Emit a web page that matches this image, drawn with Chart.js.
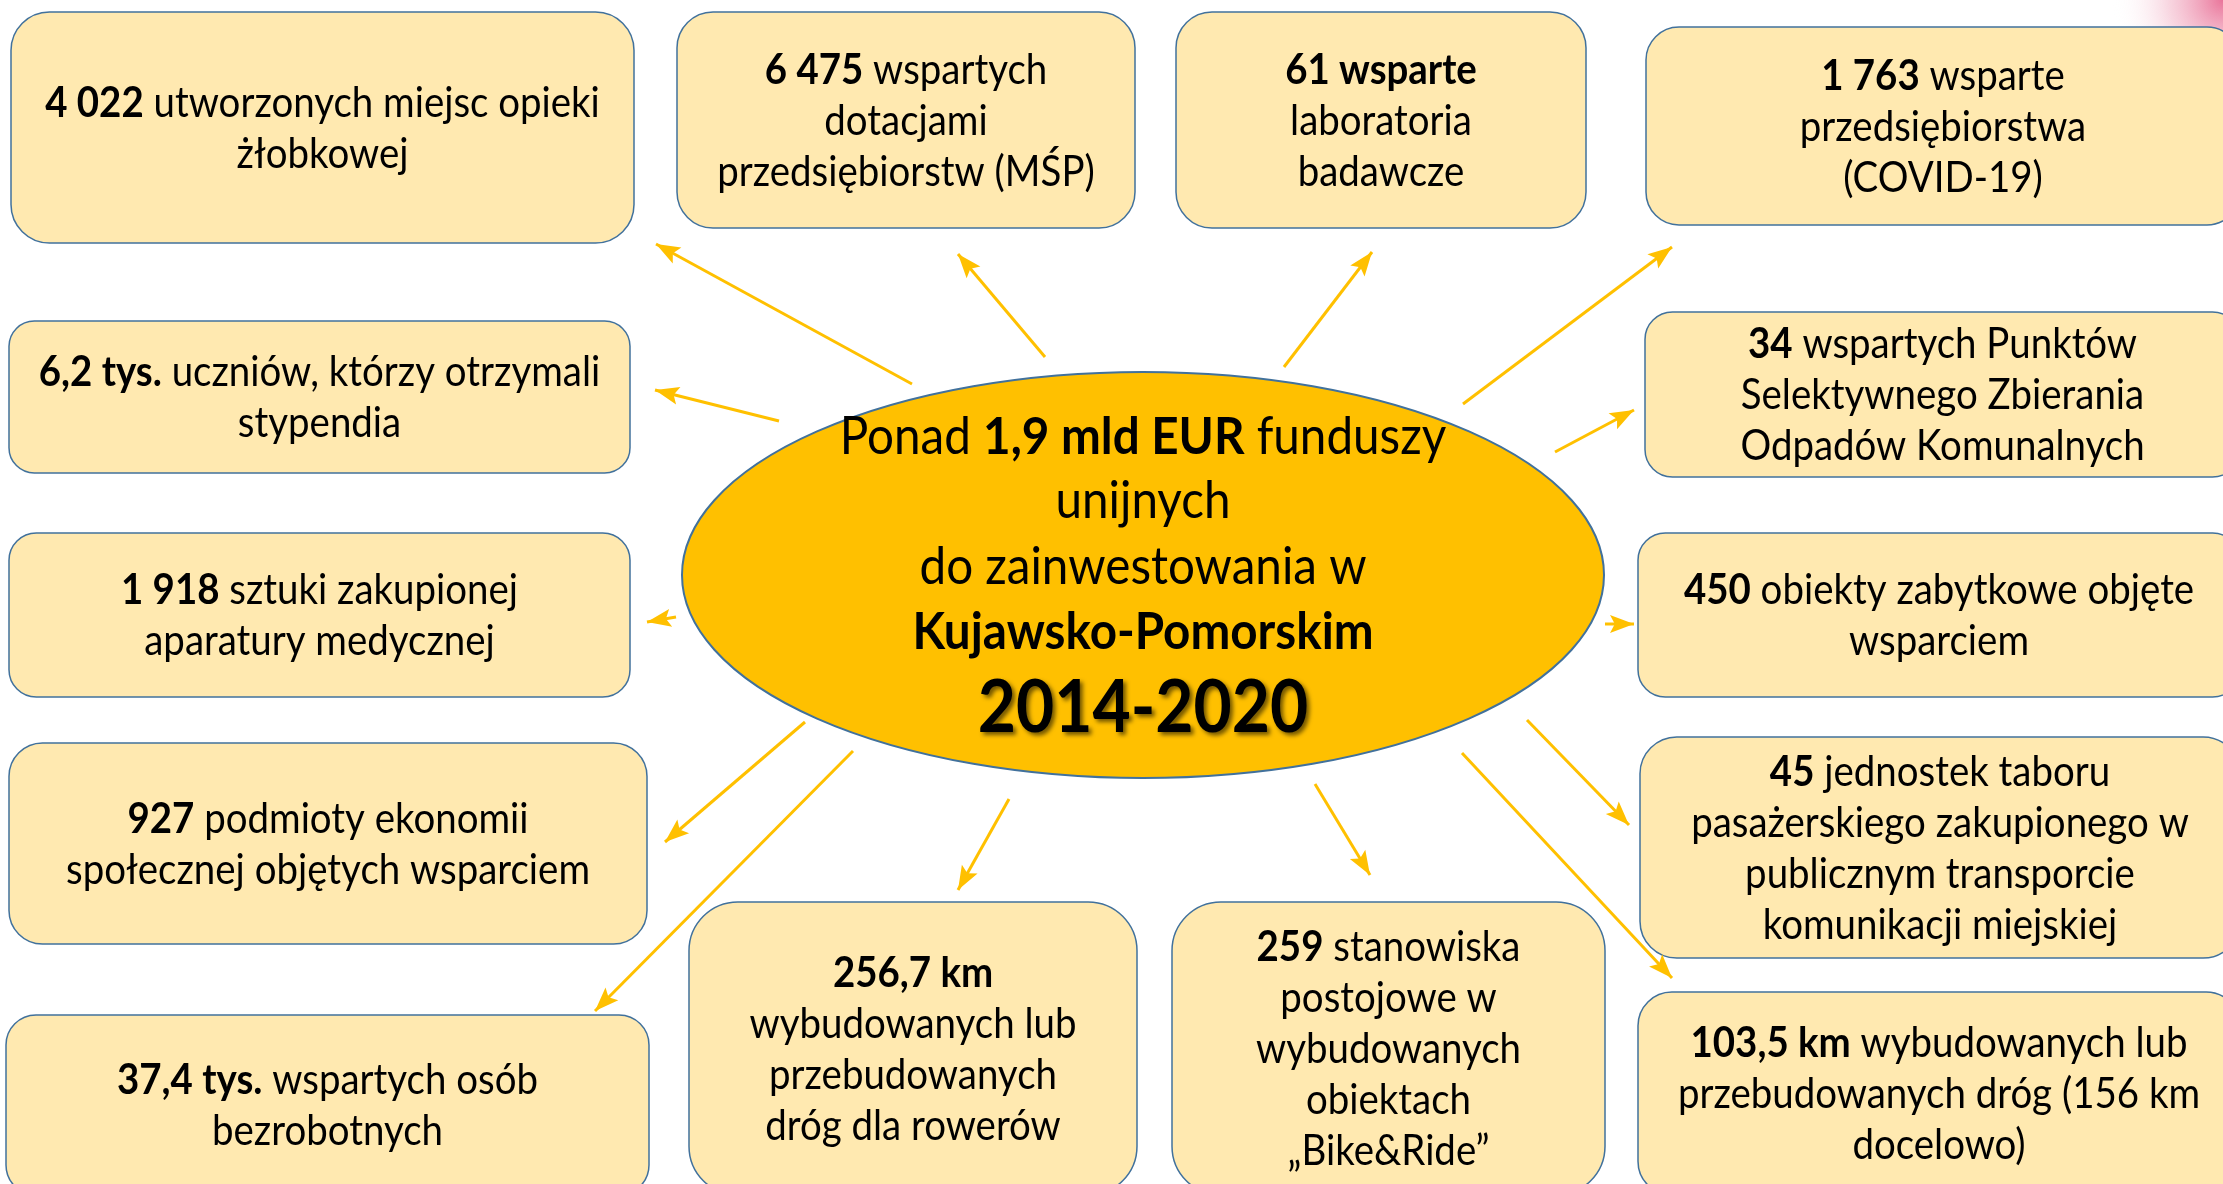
<!DOCTYPE html>
<html lang="pl">
<head>
<meta charset="utf-8">
<title>Fundusze unijne Kujawsko-Pomorskie 2014-2020</title>
<script src="https://cdn.jsdelivr.net/npm/chart.js@4.4.1/dist/chart.umd.min.js"></script>
<style>
  html, body { margin: 0; padding: 0; background: #ffffff; overflow: hidden; }
  canvas { display: block; }
</style>
</head>
<body>
<canvas id="diagram" width="2223" height="1184"></canvas>
<script>
// Wartości (pogrubione) i opisy w ramkach
const values = ['4 022', '6 475', '61 wsparte', '1 763', '6,2 tys.', '34', '1 918',
    '450', '927', '45', '37,4 tys.', '256,7 km', '259', '103,5 km'];
const descriptions = [
    [' utworzonych miejsc opieki', 'żłobkowej'],
    [' wspartych', 'dotacjami', 'przedsiębiorstw (MŚP)'],
    ['', 'laboratoria', 'badawcze'],
    [' wsparte', 'przedsiębiorstwa', '(COVID-19)'],
    [' uczniów, którzy otrzymali', 'stypendia'],
    [' wspartych Punktów', 'Selektywnego Zbierania', 'Odpadów Komunalnych'],
    [' sztuki zakupionej', 'aparatury medycznej'],
    [' obiekty zabytkowe objęte', 'wsparciem'],
    [' podmioty ekonomii', 'społecznej objętych wsparciem'],
    [' jednostek taboru', 'pasażerskiego zakupionego w', 'publicznym transporcie', 'komunikacji miejskiej'],
    [' wspartych osób', 'bezrobotnych'],
    ['', 'wybudowanych lub', 'przebudowanych', 'dróg dla rowerów'],
    [' stanowiska', 'postojowe w', 'wybudowanych', 'obiektach', '„Bike&Ride”'],
    [' wybudowanych lub', 'przebudowanych dróg (156 km', 'docelowo)']
];

// Tekst w elipsie
const totalPrefix = 'Ponad ';
const totalAmount = '1,9 mld EUR';
const totalSuffix = ' funduszy';
const centerLines = ['unijnych', 'do zainwestowania w'];
const regionName = 'Kujawsko-Pomorskim';
const periodLabel = '2014-2020';

// Układ (jednostki osi: piksele obrazu wzorcowego)
const boxRects = [
    [11, 12, 634, 243], [677, 12, 1135, 228], [1176, 12, 1586, 228], [1646, 27, 2240, 225],
    [9, 321, 630, 473], [1645, 312, 2240, 477], [9, 533, 630, 697], [1638, 533, 2240, 697],
    [9, 743, 647, 944], [1640, 737, 2240, 958], [6, 1015, 649, 1195], [689, 902, 1137, 1195],
    [1172, 902, 1605, 1195], [1638, 992, 2240, 1195]
];
const arrowFrom = [[912, 384], [1045, 357], [1284, 367], [1463, 404], [779, 421], [1555, 452], [676, 617],
    [1605, 624], [805, 722], [1527, 720], [853, 751], [1009, 799], [1315, 784], [1462, 753]];
const arrowTo = [[656, 244], [958, 254], [1372, 252], [1672, 247], [655, 390], [1634, 410], [647, 622],
    [1634, 624], [665, 842], [1629, 825], [595, 1011], [958, 890], [1370, 875], [1672, 978]];
const ellipse = { cx: 1143, cy: 575, rx: 461, ry: 203 };

const FONT = 'Lato, "Open Sans", sans-serif';
const SX = 0.915;
const GOLD = '#FFC000';
const BORDER = '#41719C';
const BOX_FILL = '#FFE9B0';

function toPx(chart, x, y) {
    return [chart.scales.x.getPixelForValue(x), chart.scales.y.getPixelForValue(y)];
}

function drawRuns(ctx, runs, cx, cy, size) {
    let total = 0;
    runs.forEach(function(r) {
        ctx.font = (r.b ? 'bold ' : '') + size + 'px ' + FONT;
        r.w = ctx.measureText(r.t).width;
        total += r.w;
    });
    ctx.save();
    ctx.translate(cx, cy);
    ctx.scale(SX, 1);
    ctx.textAlign = 'left';
    ctx.textBaseline = 'middle';
    let x = -total / 2;
    runs.forEach(function(r) {
        ctx.font = (r.b ? 'bold ' : '') + size + 'px ' + FONT;
        ctx.fillText(r.t, x, 0);
        x += r.w;
    });
    ctx.restore();
}

const diagramPlugin = {
    id: 'diagram',
    beforeDatasetsDraw: function(chart) {
        const ctx = chart.ctx;
        ctx.save();

        // plama w prawym górnym rogu
        const c = toPx(chart, 2223, 0);
        const g = ctx.createRadialGradient(c[0], c[1], 0, c[0], c[1], 110);
        g.addColorStop(0, 'rgba(226, 70, 120, 0.75)');
        g.addColorStop(0.5, 'rgba(236, 140, 170, 0.35)');
        g.addColorStop(1, 'rgba(255, 255, 255, 0)');
        ctx.fillStyle = g;
        ctx.fillRect(c[0] - 120, c[1], 120, 120);

        // ramki
        boxRects.forEach(function(r, i) {
            const p1 = toPx(chart, r[0], r[1]);
            const p2 = toPx(chart, r[2], r[3]);
            const w = p2[0] - p1[0], h = p2[1] - p1[1];
            const rad = Math.min(w, h) * 0.1667;
            ctx.beginPath();
            ctx.roundRect(p1[0], p1[1], w, h, rad);
            ctx.fillStyle = BOX_FILL;
            ctx.fill();
            ctx.lineWidth = 1.5;
            ctx.strokeStyle = BORDER;
            ctx.stroke();

            const lines = descriptions[i];
            const lh = 51;
            const cx = p1[0] + w / 2;
            const top = p1[1] + h / 2 - (lines.length - 1) * lh / 2 + 1;
            ctx.fillStyle = '#000';
            lines.forEach(function(line, j) {
                const runs = j === 0 ? [{ t: values[i], b: true }, { t: line, b: false }] : [{ t: line, b: false }];
                drawRuns(ctx, runs, cx, top + j * lh, 42);
            });
        });

        // elipsa
        const e = toPx(chart, ellipse.cx, ellipse.cy);
        const ex = toPx(chart, ellipse.cx + ellipse.rx, ellipse.cy + ellipse.ry);
        ctx.beginPath();
        ctx.ellipse(e[0], e[1], ex[0] - e[0], ex[1] - e[1], 0, 0, Math.PI * 2);
        ctx.fillStyle = GOLD;
        ctx.fill();
        ctx.lineWidth = 2;
        ctx.strokeStyle = BORDER;
        ctx.stroke();

        ctx.fillStyle = '#000';
        drawRuns(ctx, [{ t: totalPrefix }, { t: totalAmount, b: true }, { t: totalSuffix }], e[0], e[1] - 138, 52);
        drawRuns(ctx, [{ t: centerLines[0] }], e[0], e[1] - 74, 52);
        drawRuns(ctx, [{ t: centerLines[1] }], e[0], e[1] - 8, 52);
        drawRuns(ctx, [{ t: regionName, b: true }], e[0], e[1] + 57, 52);

        ctx.save();
        ctx.shadowColor = 'rgba(0, 0, 0, 0.55)';
        ctx.shadowOffsetX = 3;
        ctx.shadowOffsetY = 3;
        ctx.shadowBlur = 4;
        drawRuns(ctx, [{ t: periodLabel, b: true }], e[0], e[1] + 134, 72);
        ctx.restore();

        ctx.restore();
    },
    afterDatasetsDraw: function(chart) {
        const ctx = chart.ctx;
        ctx.save();
        ctx.fillStyle = GOLD;
        arrowTo.forEach(function(t, i) {
            const a = toPx(chart, arrowFrom[i][0], arrowFrom[i][1]);
            const b = toPx(chart, t[0], t[1]);
            const ang = Math.atan2(b[1] - a[1], b[0] - a[0]);
            const len = 24, half = 9;
            ctx.save();
            ctx.translate(b[0], b[1]);
            ctx.rotate(ang);
            ctx.beginPath();
            ctx.moveTo(0, 0);
            ctx.lineTo(-len, -half);
            ctx.lineTo(-len * 0.8, 0);
            ctx.lineTo(-len, half);
            ctx.closePath();
            ctx.fill();
            ctx.restore();
        });
        ctx.restore();
    }
};

// strzałki jako zbiory danych (linie), groty dorysowane wtyczką
const arrowDatasets = arrowFrom.map(function(f, i) {
    return {
        data: [{ x: f[0], y: f[1] }, { x: arrowTo[i][0], y: arrowTo[i][1] }],
        showLine: true,
        borderColor: GOLD,
        borderWidth: 3,
        pointRadius: 0,
        fill: false
    };
});

new Chart(document.getElementById('diagram').getContext('2d'), {
    type: 'scatter',
    data: { datasets: arrowDatasets },
    options: {
        responsive: false,
        animation: false,
        events: [],
        layout: { padding: 0 },
        plugins: { legend: { display: false }, tooltip: { enabled: false } },
        scales: {
            x: { type: 'linear', min: 0, max: 2223, display: false },
            y: { type: 'linear', min: 0, max: 1184, reverse: true, display: false }
        }
    },
    plugins: [diagramPlugin]
});
</script>
</body>
</html>
